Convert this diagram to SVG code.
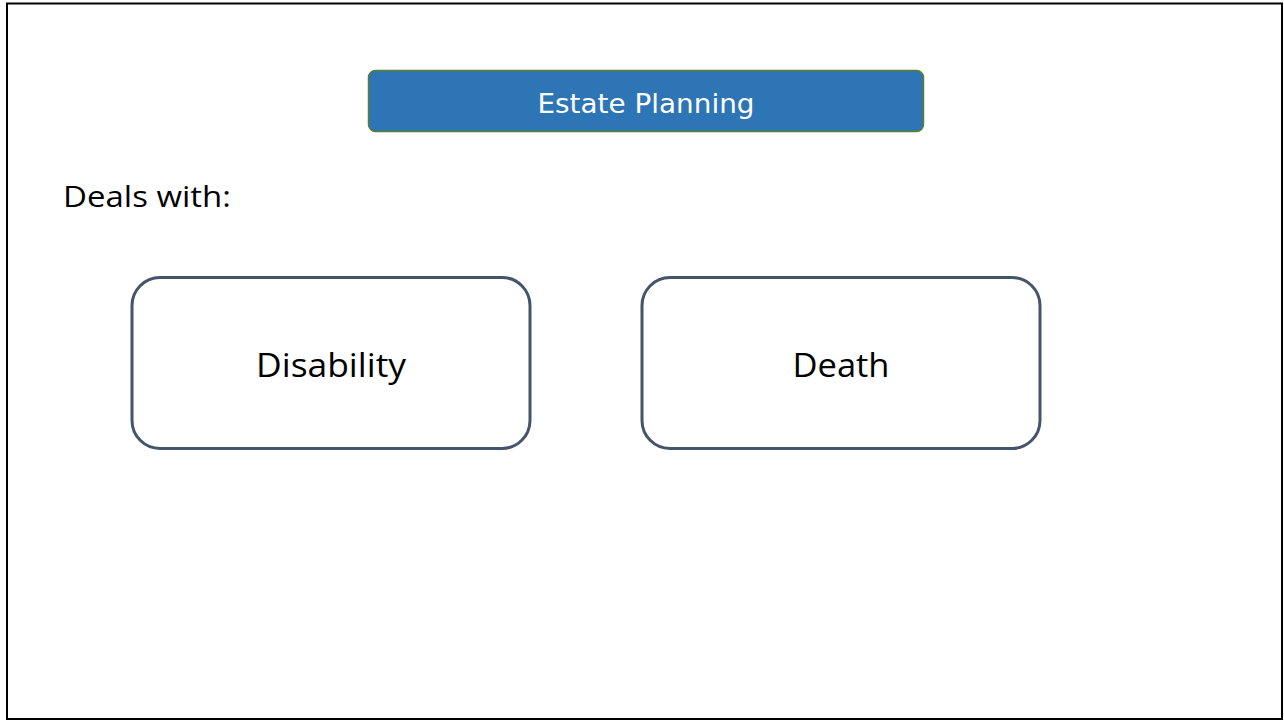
<svg xmlns="http://www.w3.org/2000/svg" width="1284" height="721" viewBox="0 0 1284 721">
<style>
.box{fill:#fff;stroke:#44546A;stroke-width:3}
.lbl{font-family:"Open Sans","Liberation Sans",sans-serif;font-size:32px;fill:#000;text-anchor:middle}
</style>
<rect x="0" y="0" width="1284" height="721" fill="#fff"/>
<rect x="7" y="3.5" width="1275" height="715.5" fill="none" stroke="#000" stroke-width="2"/>
<g id="title">
<rect x="368.5" y="70.5" width="555" height="61" rx="7" fill="#2E75B6" stroke="#5B7F2E" stroke-width="1.5"/>
<text x="646" y="113" font-family="'DejaVu Sans',sans-serif" font-size="27" fill="#fff" text-anchor="middle" textLength="217" lengthAdjust="spacingAndGlyphs">Estate Planning</text>
</g>
<g id="dealswith">
<text x="63" y="207" font-family="'Open Sans','Liberation Sans',sans-serif" font-size="30" fill="#000" textLength="168" lengthAdjust="spacingAndGlyphs">Deals with:</text>
</g>
<g id="disability">
<rect class="box" x="132" y="277.5" width="398" height="171" rx="28"/>
<text class="lbl" x="331" y="377" textLength="150" lengthAdjust="spacingAndGlyphs">Disability</text>
</g>
<g id="death">
<rect class="box" x="642" y="277.5" width="398" height="171" rx="28"/>
<text class="lbl" x="841" y="377" textLength="97" lengthAdjust="spacingAndGlyphs">Death</text>
</g>
<g id="connectors"></g>
</svg>
